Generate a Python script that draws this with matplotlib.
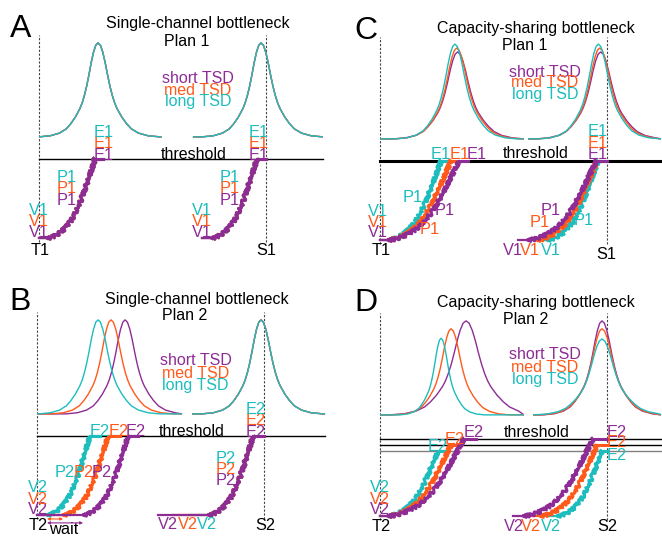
"""
Schematic of TSD-dependent ramps and bottleneck activity (four panels).
"""
import numpy as np
import matplotlib
matplotlib.use('Agg')
import matplotlib.pyplot as plt

plt.rcParams['font.family'] = ['Liberation Sans', 'DejaVu Sans']

# order everywhere: short, med, long TSD
COLORS = ['#8E2C96', '#FF5A1A', '#1DBDBD']
TSD_LABELS = ['short TSD', 'med TSD', 'long TSD']

# shape of one activity bump (time offset from peak -> fraction of height)
PEAK_OFFSETS = [0, 1, 2, 3, 4, 5, 6, 7, 8, 10, 12, 14, 17, 21, 26]
PEAK_PROFILE = [1.0, 0.975, 0.9, 0.79, 0.66, 0.54, 0.44, 0.36, 0.3,
                0.21, 0.14, 0.085, 0.04, 0.012, 0.0]

# shape of one accumulator ramp (fraction of rise time -> fraction of threshold)
RAMP_FRACTION = [0, 0.1, 0.2, 0.3, 0.4, 0.5, 0.6, 0.7, 0.8, 0.9, 1.0]
RAMP_PROFILE = [0, 0.01, 0.04, 0.08, 0.14, 0.22, 0.33, 0.47, 0.64, 0.82, 1.0]

PEAK_BASE = 1.28  # level of bump baselines, threshold = 1

# ---- panel A: single-channel bottleneck, plan 1
A_SPANS = [(0, 54), (67.8, 125)]
A_PEAK1 = {'center': [26, 26, 26], 'height': [1.19, 1.19, 1.19], 'width': [1, 1, 1]}
A_PEAK2 = {'center': [97.8, 97.8, 97.8], 'height': [1.19, 1.19, 1.19], 'width': [1, 1, 1]}
A_THRESH = [1.0, 1.0, 1.0]
A_RAMP1 = [[0, 3.5, 24.7, 28], [0, 3.5, 24.7, 28], [0, 3.5, 24.7, 28]]
A_RAMP2 = [[71.8, 76, 96, 100], [71.8, 76, 96, 100], [71.8, 76, 96, 100]]

# ---- panel B: single-channel bottleneck, plan 2
B_SPANS = [(0, 63.9), (68.3, 126.9)]
B_PEAK1 = {'center': [38.8, 32.6, 26.9], 'height': [1.19, 1.19, 1.19], 'width': [1, 1, 1]}
B_PEAK2 = {'center': [98.7, 98.7, 98.7], 'height': [1.19, 1.19, 1.19], 'width': [1, 1, 1]}
B_THRESH = [1.0, 1.0, 1.0]
B_RAMP1 = [[0, 20.3, 40.1, 44.5], [0, 11.5, 31.3, 36.6], [0, 4.4, 23.3, 27.8]]
B_RAMP2 = [[53.3, 75.5, 95.2, 100], [60, 75.5, 95.2, 100], [67, 75.5, 95.2, 100]]

# ---- panel C: capacity-sharing bottleneck, plan 1
C_SPANS = [(0, 63.4), (65.2, 123.8)]
C_PEAK1 = {'center': [34.2, 33.8, 33.0], 'height': [1.1, 1.15, 1.2], 'width': [1.09, 1.04, 1.0]}
C_PEAK2 = {'center': [97.2, 96.8, 96.2], 'height': [1.1, 1.15, 1.2], 'width': [1.09, 1.04, 1.0]}
C_THRESH = [1.0, 1.0, 1.0]
C_RAMP1 = [[0, 3.5, 34.8, 38.8], [0, 3.5, 31.3, 34.8], [0, 3.5, 26.9, 30.4]]
C_RAMP2 = [[60.8, 65, 95.2, 100], [66.5, 69, 95.5, 100], [69.6, 73.5, 96, 100]]

# ---- panel D: capacity-sharing bottleneck, plan 2
D_SPANS = [(0, 63.4), (67.4, 123.8)]
D_PEAK1 = {'center': [37.9, 31.3, 26.9], 'height': [1.19, 1.09, 0.97], 'width': [1.3, 0.95, 0.7]}
D_PEAK2 = {'center': [97.8, 97.8, 97.8], 'height': [1.19, 1.09, 0.96], 'width': [1.0, 1.05, 1.15]}
D_THRESH = [0.975, 0.9, 0.82]
D_RAMP1 = [[0, 3.5, 37, 42.3], [0, 3.5, 31.3, 35.7], [0, 3.5, 25.6, 29]]
D_RAMP2 = [[58.6, 63, 93.8, 100], [64.3, 70.5, 95.6, 100], [70.5, 78, 97.8, 100]]

# text labels: (text, time, level, colour index or None for black)
A_LABELS = [('V1', 0, 0.09, 0), ('V1', 0, 0.23, 1), ('V1', 0, 0.36, 2),
            ('P1', 12.2, 0.49, 0), ('P1', 12.2, 0.64, 1), ('P1', 12.2, 0.78, 2),
            ('E1', 28.3, 1.06, 0), ('E1', 28.3, 1.21, 1), ('E1', 28.3, 1.35, 2),
            ('V1', 71.9, 0.09, 0), ('V1', 71.9, 0.23, 1), ('V1', 71.9, 0.36, 2),
            ('P1', 84.1, 0.49, 0), ('P1', 84.1, 0.64, 1), ('P1', 84.1, 0.78, 2),
            ('E1', 96.6, 1.06, 0), ('E1', 96.6, 1.21, 1), ('E1', 96.6, 1.35, 2),
            ('T1', 0.4, -0.14, None), ('S1', 100.3, -0.14, None)]
B_LABELS = [('V2', 0.6, 0.09, 0), ('V2', 0.6, 0.22, 1), ('V2', 0.6, 0.36, 2),
            ('P2', 28.5, 0.55, 0), ('P2', 20.4, 0.55, 1), ('P2', 12.3, 0.55, 2),
            ('E2', 43.7, 1.07, 0), ('E2', 36.1, 1.07, 1), ('E2', 27.8, 1.07, 2),
            ('V2', 57.8, -0.1, 0), ('V2', 66.7, -0.1, 1), ('V2', 74.8, -0.1, 2),
            ('P2', 83.3, 0.46, 0), ('P2', 83.3, 0.59, 1), ('P2', 83.3, 0.73, 2),
            ('E2', 96.5, 1.06, 0), ('E2', 96.5, 1.21, 1), ('E2', 96.5, 1.35, 2),
            ('T2', 0.6, -0.12, None), ('S2', 100.7, -0.12, None),
            ('wait', 11.6, -0.165, None)]
C_LABELS = [('V1', -1, 0.11, 0), ('V1', -1, 0.24, 1), ('V1', -1, 0.38, 2),
            ('P1', 28.3, 0.39, 0), ('P1', 22, 0.15, 1), ('P1', 14.4, 0.56, 2),
            ('E1', 42.6, 1.10, 0), ('E1', 34.9, 1.10, 1), ('E1', 26.9, 1.10, 2),
            ('V1', 58.4, -0.11, 0), ('V1', 66.2, -0.11, 1), ('V1', 75.3, -0.11, 2),
            ('P1', 75, 0.39, 0), ('P1', 70.5, 0.24, 1), ('P1', 89.6, 0.27, 2),
            ('E1', 95.9, 1.10, 0), ('E1', 95.9, 1.24, 1), ('E1', 95.9, 1.39, 2),
            ('T1', 0.4, -0.12, None), ('S1', 99.6, -0.16, None)]
D_LABELS = [('V2', 0, 0.1, 0), ('V2', 0, 0.23, 1), ('V2', 0, 0.38, 2),
            ('E2', 41.5, 1.07, 0), ('E2', 33, 0.99, 1), ('E2', 25.4, 0.90, 2),
            ('V2', 58.9, -0.11, 0), ('V2', 66.5, -0.11, 1), ('V2', 75.3, -0.11, 2),
            ('E2', 104.4, 1.08, 0), ('E2', 104.4, 0.95, 1), ('E2', 104.4, 0.78, 2),
            ('T2', 0.4, -0.11, None), ('S2', 100, -0.11, None)]

PX_PER_T = 2.27     # pixels per time unit
PX_PER_LEVEL = 79.  # pixels per threshold unit
CAP = 0.075         # half cap height in level units (text baseline shift)
FS = 11.8           # label font size
FS_TITLE = 11.5


def make_axes(fig, left, top, t_px, bottom_px):
    """One quadrant axes whose data units are time and threshold level."""
    w, h = 331, 268
    ax = fig.add_axes([left / 662, 1 - (top + h) / 536, w / 662, h / 536])
    ax.set_xlim(-t_px / PX_PER_T, (w - t_px) / PX_PER_T)
    ax.set_ylim(-(h - bottom_px) / PX_PER_LEVEL, bottom_px / PX_PER_LEVEL)
    ax.axis('off')
    return ax


def draw_peak(ax, center, height, width, span, color):
    off = np.array(PEAK_OFFSETS, dtype=float)
    prof = np.array(PEAK_PROFILE)
    x = np.concatenate([[span[0]], center - off[::-1] * width,
                        center + off[1:] * width * 1.05, [span[1]]])
    y = PEAK_BASE + height * np.concatenate([[0], prof[::-1], prof[1:], [0]])
    keep = (x >= span[0]) & (x <= span[1])
    ax.plot(x[keep], y[keep], color=color, lw=1.0, solid_capstyle='butt')


def draw_ramp(ax, ramp, top, color):
    flat0, rise0, rise1, flat1 = ramp
    ax.plot([flat0, rise0], [0, 0], color=color, lw=1.6)
    x = rise0 + (rise1 - rise0) * np.array(RAMP_FRACTION)
    y = top * np.array(RAMP_PROFILE)
    # jagged look of a noisy trace
    line, = ax.plot(x, y, color=color, lw=2.2)
    line.set_sketch_params(1.8, 1.2, 2.0)
    ax.plot([rise1, flat1], [top, top], color=color, lw=2.2)


def draw_panel(ax, letter, title, spans, peak1, peak2, thresh, ramp1, ramp2,
               labels, legend_pos, thresh_pos, thick=False):
    # dashed T / S markers
    for t in (0, 100):
        ax.plot([t, t], [-0.05, 2.57], color='#444444', lw=0.8,
                linestyle=(0, (2, 1.5)))
    # bumps: purple first so cyan sits on top
    for peak, span in ((peak1, spans[0]), (peak2, spans[1])):
        for i in range(3):
            draw_peak(ax, peak['center'][i], peak['height'][i],
                      peak['width'][i], span, COLORS[i])
    # threshold line(s)
    levels = sorted(set(thresh))
    for lev in levels:
        col = 'black'
        if len(levels) > 1 and lev == min(levels):
            col = '#808080'
        ax.plot([0, spans[1][1]], [lev, lev], color=col,
                lw=2.2 if thick else 1.0)
    # ramps: cyan first so purple sits on top
    for i in (2, 1, 0):
        draw_ramp(ax, ramp1[i], thresh[i], COLORS[i])
        draw_ramp(ax, ramp2[i], thresh[i], COLORS[i])
    for text, x, y, ci in labels:
        ax.text(x, y - CAP, text, ha='center', va='baseline', fontsize=FS,
                color='black' if ci is None else COLORS[ci], clip_on=False)
    ax.text(thresh_pos[0], thresh_pos[1] - CAP, 'threshold', ha='center',
            va='baseline', fontsize=FS_TITLE)
    for i in range(3):
        ax.text(legend_pos[0], legend_pos[1][i] - CAP, TSD_LABELS[i],
                ha='center', va='baseline', fontsize=FS_TITLE, color=COLORS[i])
    ax.text(title[1], title[2] - CAP, title[0][0], ha='center',
            va='baseline', fontsize=FS_TITLE)
    ax.text(title[3], title[4] - CAP, title[0][1], ha='center',
            va='baseline', fontsize=FS_TITLE)
    ax.text(letter[1], letter[2] - 0.15, letter[0], ha='center',
            va='baseline', fontsize=23)


fig = plt.figure(figsize=(6.62, 5.36), dpi=100)

axA = make_axes(fig, 0, 0, 39, 238)
draw_panel(axA, ('A', -7.9, 2.70),
           (('Single-channel bottleneck', 'Plan 1'), 70, 2.73, 65.2, 2.51),
           A_SPANS, A_PEAK1, A_PEAK2, A_THRESH, A_RAMP1, A_RAMP2, A_LABELS,
           (70, [2.04, 1.89, 1.75]), (68, 1.08))

axB = make_axes(fig, 0, 268, 37, 247)
draw_panel(axB, ('B', -7.5, 2.74),
           (('Single-channel bottleneck', 'Plan 2'), 70.3, 2.75, 65.2, 2.54),
           B_SPANS, B_PEAK1, B_PEAK2, B_THRESH, B_RAMP1, B_RAMP2, B_LABELS,
           (69.9, [1.98, 1.81, 1.66]), (68.1, 1.08))
# wait arrows, measured from the earliest (long TSD) ramp onset
for i, lev in ((1, -0.05), (0, -0.1)):
    axB.annotate('', xy=(B_RAMP1[i][1], lev), xytext=(B_RAMP1[2][1], lev),
                 arrowprops=dict(arrowstyle='<|-|>', color=COLORS[i], lw=0.8,
                                 mutation_scale=4, shrinkA=0, shrinkB=0))

axC = make_axes(fig, 331, 0, 49, 240)
draw_panel(axC, ('C', -6.2, 2.70),
           (('Capacity-sharing bottleneck', 'Plan 1'), 68.7, 2.70, 63.6, 2.48),
           C_SPANS, C_PEAK1, C_PEAK2, C_THRESH, C_RAMP1, C_RAMP2, C_LABELS,
           (72.6, [2.14, 2.01, 1.86]), (68.7, 1.11), thick=True)

axD = make_axes(fig, 331, 268, 49, 248)
draw_panel(axD, ('D', -6.2, 2.74),
           (('Capacity-sharing bottleneck', 'Plan 2'), 68.7, 2.72, 64.3, 2.51),
           D_SPANS, D_PEAK1, D_PEAK2, D_THRESH, D_RAMP1, D_RAMP2, D_LABELS,
           (72.6, [2.06, 1.90, 1.75]), (69.2, 1.08))

fig.savefig('out.png', dpi=100)
plt.close(fig)
